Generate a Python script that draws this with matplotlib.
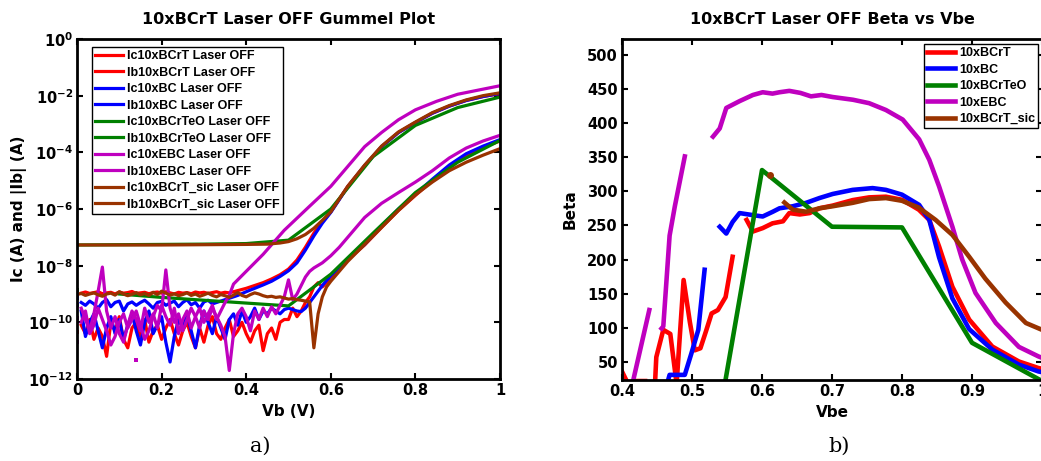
import numpy as np
import matplotlib
matplotlib.use('Agg')
import matplotlib.pyplot as plt

plt.rcParams['font.family'] = ['DejaVu Sans']
plt.rcParams['font.weight'] = 'bold'
plt.rcParams['mathtext.fontset'] = 'dejavusans'
plt.rcParams['mathtext.default'] = 'bf'

LEG_FONT = ['Liberation Sans', 'DejaVu Sans']

# ---------------- colours ----------------
RED, BLUE, GREEN, MAG, BROWN = '#FF0000', '#0000FF', '#008000', '#BF00BF', '#993300'

# ---------------- Gummel plot data (log10 of current in A) ----------------
# Ic 10xBCrT
ic_bcrt_noise = [-8.97, -8.93, -8.98, -8.95, -8.92, -8.99, -8.96, -8.94, -9.00, -8.93,
                 -8.97, -8.95, -8.91, -8.98, -8.96, -8.94, -8.99, -8.95, -8.93, -8.97,
                 -8.92, -8.96, -9.00, -8.94, -8.97, -8.95, -8.99, -8.93, -8.96, -8.94,
                 -8.98, -8.95, -8.92, -8.97, -8.94, -8.96]
ic_bcrt_tail_vb = [0.37, 0.38, 0.40, 0.42, 0.44, 0.46, 0.48, 0.50, 0.52, 0.54, 0.56, 0.58,
                   0.60, 0.64, 0.68, 0.72, 0.76, 0.80, 0.84, 0.88, 0.92, 0.96, 1.00]
ic_bcrt_tail = [-8.92, -8.88, -8.80, -8.70, -8.60, -8.47, -8.32, -8.12, -7.80, -7.35, -6.85, -6.45,
                -6.10, -5.20, -4.47, -3.80, -3.30, -2.95, -2.62, -2.37, -2.17, -2.03, -1.93]

# Ib 10xBCrT
ib_bcrt_noise = [-10.1, -10.4, -9.9, -10.6, -10.2, -10.5, -11.2, -10.0, -10.3, -9.8,
                 -10.6, -10.9, -10.2, -10.0, -10.5, -9.9, -10.7, -10.3, -10.1, -10.6,
                 -10.2, -9.9, -10.4, -10.8, -10.3, -10.0, -10.5, -10.9, -10.2, -10.7,
                 -10.1, -9.8, -10.4, -10.6, -10.2, -9.9, -10.5, -10.3, -10.0, -10.4,
                 -10.7, -10.3, -10.1, -11.0, -10.4, -10.2, -10.6, -10.0, -9.9, -9.9,
                 -9.5, -9.8, -9.6, -9.3, -9.1]
ib_bcrt_tail_vb = [0.56, 0.57, 0.58, 0.59, 0.60, 0.64, 0.68, 0.72, 0.76, 0.80, 0.84, 0.88, 0.92, 0.96, 1.00]
ib_bcrt_tail = [-8.75, -8.60, -8.75, -8.60, -8.40, -7.80, -7.27, -6.65, -6.05, -5.52, -5.00, -4.50,
                -4.10, -3.82, -3.60]

# Ic 10xBC
ic_bc_noise = [-9.30, -9.40, -9.25, -9.35, -9.50, -9.30, -9.20, -9.45, -9.30, -9.25,
               -9.60, -9.35, -9.28, -9.40, -9.30, -9.22, -9.35, -9.50, -9.30, -9.26,
               -9.40, -9.32, -9.25, -9.45, -9.30, -9.20, -9.38, -9.30, -9.50, -9.28,
               -9.22, -9.35, -9.30, -9.25, -9.20, -9.15]
ic_bc_tail_vb = ic_bcrt_tail_vb
ic_bc_tail = [-9.10, -9.05, -8.92, -8.80, -8.68, -8.55, -8.38, -8.18, -7.90, -7.45, -6.95, -6.50,
              -6.12, -5.22, -4.47, -3.80, -3.30, -2.95, -2.62, -2.37, -2.17, -2.03, -1.92]

# Ib 10xBC
ib_bc_noise = [-9.6, -10.5, -10.0, -9.7, -10.3, -10.9, -10.2, -9.8, -10.4, -9.9,
               -10.6, -10.1, -9.7, -10.3, -10.8, -10.0, -9.6, -10.4, -10.1, -9.8,
               -10.7, -11.4, -10.5, -9.9, -10.2, -9.7, -10.3, -10.9, -10.1, -9.6,
               -10.0, -10.4, -9.8, -10.2, -10.6, -9.9, -9.7, -10.1, -9.6, -10.0,
               -9.8, -9.5, -9.9, -9.6, -9.7, -9.5, -9.6, -9.7, -9.55, -9.5,
               -9.55, -9.6, -9.62, -9.5, -9.3]
ib_bc_tail_vb = [0.56, 0.57, 0.58, 0.60, 0.64, 0.68, 0.72, 0.76, 0.80, 0.84, 0.88, 0.92, 0.96, 1.00]
ib_bc_tail = [-9.10, -8.90, -8.70, -8.35, -7.75, -7.25, -6.60, -6.00, -5.48, -4.95, -4.45, -4.05,
              -3.78, -3.55]

# Ic / Ib 10xBCrTeO (coarser sampling)
teo_vb = [0.0, 0.1, 0.2, 0.3, 0.4, 0.5, 0.6, 0.7, 0.8, 0.9, 1.0]
ic_teo = [-7.27, -7.26, -7.25, -7.24, -7.22, -7.10, -6.00, -4.15, -3.05, -2.42, -2.05]
ib_teo_vb = [0.1, 0.2, 0.3, 0.4, 0.5, 0.6, 0.7, 0.8, 0.9, 1.0]
ib_teo = [-9.00, -9.12, -9.22, -9.32, -9.42, -8.30, -6.85, -5.42, -4.35, -3.58]

# Ic 10xEBC
ic_ebc_noise = [-9.5, -9.9, -10.3, -9.7, -8.9, -8.05, -9.6, -10.2, -9.8, -10.4,
                -10.7, -10.1, -9.6, -9.9, -10.3, -9.5, -10.0, -9.7, -10.2, -9.4,
                -9.8, -10.1, -9.5, -10.4, -9.9, -9.6, -10.2, -9.8, -9.5, -10.0,
                -9.7, -9.4, -9.9, -9.6, -9.3]
ic_ebc_tail_vb = [0.36, 0.37, 0.38, 0.40, 0.44, 0.49, 0.55, 0.60, 0.64, 0.68, 0.72, 0.76, 0.80,
                  0.85, 0.90, 0.95, 1.00]
ic_ebc_tail = [-9.05, -8.65, -8.50, -8.20, -7.60, -6.75, -5.90, -5.20, -4.50, -3.80, -3.30, -2.85,
               -2.50, -2.20, -1.95, -1.80, -1.65]

# Ib 10xEBC
ib_ebc_noise = [-10.0, -9.6, -10.4, -10.1, -9.5, -9.9, -10.3, -10.8, -10.5, -10.0,
                -9.7, -10.2, -9.9, -9.6, -10.1, -10.6, -10.3, -9.8, -9.4, -9.6,
                -8.15, -9.5, -10.0, -9.7, -10.3, -9.9, -9.5, -9.8, -10.2, -9.6,
                -9.9, -9.5, -9.8, -10.1, -10.5, -11.7, -10.4, -9.7, -9.5, -9.8,
                -10.3, -9.6, -9.9, -9.5, -9.8]
ib_ebc_tail_vb = [0.46, 0.47, 0.48, 0.49, 0.50, 0.51, 0.52, 0.53, 0.54, 0.55, 0.56, 0.58, 0.60,
                  0.62, 0.64, 0.68, 0.72, 0.76, 0.80, 0.84, 0.88, 0.92, 0.96, 1.00]
ib_ebc_tail = [-9.45, -9.70, -9.40, -9.10, -8.50, -9.20, -9.00, -8.70, -8.40, -8.20, -8.08, -7.90,
               -7.65, -7.35, -7.00, -6.30, -5.80, -5.42, -5.05, -4.65, -4.20, -3.85, -3.60, -3.40]

# Ic 10xBCrT_sic
ic_sic_vb = [0.0, 0.1, 0.2, 0.3, 0.4, 0.45, 0.48, 0.50, 0.52, 0.54, 0.56, 0.58, 0.60, 0.64, 0.68,
             0.72, 0.76, 0.80, 0.84, 0.88, 0.92, 0.96, 1.00]
ic_sic = [-7.27, -7.27, -7.27, -7.26, -7.25, -7.24, -7.20, -7.15, -7.05, -6.90, -6.68, -6.40,
          -6.10, -5.20, -4.45, -3.78, -3.28, -2.93, -2.60, -2.35, -2.15, -2.00, -1.90]

# Ib 10xBCrT_sic (starts at 0 V)
ib_sic_noise = [-9.02, -8.98, -9.05, -9.00, -8.96, -9.03, -9.08, -9.00, -8.97, -9.04,
                -8.92, -9.00, -9.06, -9.01, -8.95, -9.03, -8.98, -9.05, -8.94, -9.02,
                -8.90, -8.97, -9.04, -8.99, -9.06, -9.02, -8.96, -9.05, -9.00, -9.08,
                -9.03, -8.97, -9.05, -9.10, -9.02, -9.06, -9.12, -9.04, -8.95, -9.05,
                -9.10, -9.02, -8.96, -9.00, -9.06, -9.10, -9.08, -9.12, -9.10, -9.14,
                -9.18, -9.16, -9.20, -9.22, -9.25, -9.28]
ib_sic_tail_vb = [0.56, 0.57, 0.58, 0.59, 0.60, 0.62, 0.64, 0.68, 0.72, 0.76, 0.80, 0.84, 0.88,
                  0.92, 0.96, 1.00]
ib_sic_tail = [-10.9, -9.7, -9.1, -8.75, -8.55, -8.2, -7.85, -7.25, -6.65, -6.05, -5.5, -5.05,
               -4.65, -4.35, -4.1, -3.87]

# isolated single samples (first point at 0 V, one stray point)
dot_vb = [0.0, 0.0, 0.0, 0.0, 0.0, 0.0, 0.0, 0.14]
dot_log = [-8.86, -9.03, -9.14, -9.39, -9.85, -10.34, -10.69, -11.33]
dot_col = [GREEN, RED, BLUE, BLUE, MAG, RED, MAG, MAG]

gummel_labels = ['Ic10xBCrT Laser OFF', 'Ib10xBCrT Laser OFF', 'Ic10xBC Laser OFF',
                 'Ib10xBC Laser OFF', 'Ic10xBCrTeO Laser OFF', 'Ib10xBCrTeO Laser OFF',
                 'Ic10xEBC Laser OFF', 'Ib10xEBC Laser OFF', 'Ic10xBCrT_sic Laser OFF',
                 'Ib10xBCrT_sic Laser OFF']

# ---------------- Beta vs Vbe data ----------------
beta_labels = ['10xBCrT', '10xBC', '10xBCrTeO', '10xEBC', '10xBCrT_sic']
nan = np.nan
bcrt_vbe = [0.400, 0.410, nan, 0.420, 0.433, nan, 0.447, 0.449, 0.459, 0.469, 0.478, 0.488,
            0.497, 0.504, 0.512, 0.520, 0.528, 0.537, 0.548, 0.558, nan, 0.578, 0.587, 0.601,
            0.615, 0.630, 0.639, 0.654, 0.668, 0.682, 0.701, 0.7295, 0.753, 0.777, 0.800,
            0.824, 0.839, 0.853, 0.872, 0.896, 0.929, 0.967, 0.995, 1.000]
bcrt_beta = [36, 15, nan, 22, 22, nan, 15, 57, 97, 91, 18, 170,
             108, 67, 70, 95, 121, 126, 145, 204, nan, 258, 241, 246,
             253, 256, 268, 266, 268, 275, 279, 287, 291, 292, 287.5,
             273, 258, 219, 160, 112, 72.5, 50.6, 41, 40]

bc_vbe = [0.4636, 0.468, 0.478, 0.4897, 0.499, 0.509, 0.518, nan, 0.5396, 0.549, 0.558, 0.568,
          0.587, 0.601, 0.6155, 0.625, 0.644, 0.663, 0.682, 0.701, 0.7295, 0.758, 0.777,
          0.800, 0.8245, 0.839, 0.853, 0.872, 0.896, 0.929, 0.967, 0.995, 1.000]
bc_beta = [15, 31, 31, 31, 62, 97, 185, nan, 248, 238, 255, 268,
           265, 263, 270, 275, 278, 283, 290, 296, 302, 304.6, 302,
           295, 280, 258, 203, 143, 98, 68, 46, 36, 35]

teo_vbe = [0.5, 0.6, 0.7, 0.8, 0.9, 1.0]
teo_beta = [-259, 331, 248, 247, 78, 22]

ebc_vbe = [0.410, 0.439, nan, 0.4565, 0.459, 0.468, 0.4755, 0.4897, nan, 0.530, 0.5396, 0.549,
           0.568, 0.587, 0.601, 0.615, 0.625, 0.639, 0.655, 0.670, 0.685, 0.701, 0.730, 0.753,
           0.777, 0.801, 0.8245, 0.839, 0.853, 0.872, 0.886, 0.905, 0.934, 0.967, 0.995, 1.000]
ebc_beta = [-4, 126, nan, 99, 102, 235, 278, 351, nan, 380, 392, 422,
            432, 441, 445, 443, 445, 447, 444, 439, 441, 438, 434, 429,
            419, 405, 376, 346, 307, 248, 200, 151, 107, 72, 58, 56]

sic_vbe = [0.632, 0.644, 0.663, 0.682, 0.701, 0.7295, 0.753, 0.777, 0.800, 0.824, 0.848, 0.872,
           0.896, 0.919, 0.948, 0.977, 1.000]
sic_beta = [283.5, 273, 270, 275, 278, 283, 288.5, 290, 286, 276, 258, 236,
            204, 172, 137, 107, 97]
sic_dot_vbe = [0.611]
sic_dot_beta = [324]


def fine(n, start=0.01):
    """measurement grid of the swept base voltage, 10 mV steps"""
    return list(np.round(start + 0.01 * np.arange(n), 2))


fig = plt.figure(figsize=(10.41, 4.61), dpi=100)
W, H = 1041.0, 461.0
ax1 = fig.add_axes([77 / W, 1 - 379 / H, 423 / W, 340 / H])
ax2 = fig.add_axes([622 / W, 1 - 380 / H, 420 / W, 341 / H])

lw1 = 2.3
curves = [
    (fine(len(ic_bcrt_noise)) + ic_bcrt_tail_vb, ic_bcrt_noise + ic_bcrt_tail, RED),
    (fine(len(ib_bcrt_noise)) + ib_bcrt_tail_vb, ib_bcrt_noise + ib_bcrt_tail, RED),
    (fine(len(ic_bc_noise)) + ic_bc_tail_vb, ic_bc_noise + ic_bc_tail, BLUE),
    (fine(len(ib_bc_noise)) + ib_bc_tail_vb, ib_bc_noise + ib_bc_tail, BLUE),
    (teo_vb, ic_teo, GREEN),
    (ib_teo_vb, ib_teo, GREEN),
    (fine(len(ic_ebc_noise)) + ic_ebc_tail_vb, ic_ebc_noise + ic_ebc_tail, MAG),
    (fine(len(ib_ebc_noise)) + ib_ebc_tail_vb, ib_ebc_noise + ib_ebc_tail, MAG),
    (ic_sic_vb, ic_sic, BROWN),
    (fine(len(ib_sic_noise), 0.0) + ib_sic_tail_vb, ib_sic_noise + ib_sic_tail, BROWN),
]
for (x, ylog, c), lab in zip(curves, gummel_labels):
    ax1.plot(x, 10.0 ** np.array(ylog), color=c, lw=lw1, label=lab)
for x, yl, c in zip(dot_vb, dot_log, dot_col):
    ax1.plot([x], [10.0 ** yl], 's', color=c, ms=2.6, mew=0)

ax1.set_yscale('log')
ax1.set_xlim(0, 1)
ax1.set_ylim(1e-12, 1)
ax1.set_xticks([0, 0.2, 0.4, 0.6, 0.8, 1])
ax1.set_xticklabels(['0', '0.2', '0.4', '0.6', '0.8', '1'])
yt = [1e-12, 1e-10, 1e-8, 1e-6, 1e-4, 1e-2, 1]
ax1.set_yticks(yt)
ax1.set_yticklabels([r'$10^{-12}$', r'$10^{-10}$', r'$10^{-8}$', r'$10^{-6}$', r'$10^{-4}$',
                     r'$10^{-2}$', r'$10^{0}$'])
ax1.yaxis.set_minor_locator(matplotlib.ticker.NullLocator())
ax1.set_title('10xBCrT Laser OFF Gummel Plot', fontsize=11.5, fontweight='bold', pad=11)
ax1.set_xlabel('Vb (V)', fontsize=11, fontweight='bold', labelpad=4)
ax1.set_ylabel('Ic (A) and |Ib| (A)', fontsize=11, fontweight='bold', labelpad=1)
leg1 = ax1.legend(loc='upper left', bbox_to_anchor=(15 / 423, 1 - 8 / 340), borderaxespad=0,
                  prop={'family': LEG_FONT, 'weight': 'bold', 'size': 9},
                  frameon=True, fancybox=False, edgecolor='black',
                  framealpha=1, labelspacing=0.36, handlelength=2.25, handletextpad=0.3,
                  borderpad=0.25)
leg1.get_frame().set_linewidth(1.0)

# ---- right panel
lw2 = 3.3
ax2.plot(bcrt_vbe, bcrt_beta, color=RED, lw=lw2, label=beta_labels[0])
ax2.plot(bc_vbe, bc_beta, color=BLUE, lw=lw2, label=beta_labels[1])
ax2.plot(teo_vbe, teo_beta, color=GREEN, lw=lw2, label=beta_labels[2])
ax2.plot(ebc_vbe, ebc_beta, color=MAG, lw=lw2, label=beta_labels[3])
ax2.plot(sic_vbe, sic_beta, color=BROWN, lw=lw2, label=beta_labels[4])
ax2.plot(sic_dot_vbe, sic_dot_beta, 'o', color=BROWN, ms=5, mew=0)
ax2.set_xlim(0.4, 1.0)
ax2.set_ylim(23.5, 523)
ax2.set_xticks([0.4, 0.5, 0.6, 0.7, 0.8, 0.9, 1.0])
ax2.set_xticklabels(['0.4', '0.5', '0.6', '0.7', '0.8', '0.9', '1'])
ax2.set_yticks([50, 100, 150, 200, 250, 300, 350, 400, 450, 500])
ax2.set_title('10xBCrT Laser OFF Beta vs Vbe', fontsize=11.5, fontweight='bold', pad=11)
ax2.set_xlabel('Vbe', fontsize=11, fontweight='bold', labelpad=4)
ax2.set_ylabel('Beta', fontsize=11, fontweight='bold', labelpad=7)
leg2 = ax2.legend(loc='upper right', bbox_to_anchor=(416 / 420, 1 - 5 / 341), borderaxespad=0,
                  prop={'family': LEG_FONT, 'weight': 'bold', 'size': 9},
                  frameon=True, fancybox=False, edgecolor='black',
                  framealpha=1, labelspacing=0.36, handlelength=2.25, handletextpad=0.3,
                  borderpad=0.25)
leg2.get_frame().set_linewidth(1.0)

for ax in (ax1, ax2):
    for s in ax.spines.values():
        s.set_linewidth(2.0)
    ax.tick_params(which='both', direction='in', top=True, right=True, length=4, width=1.5,
                   labelsize=10.5, pad=3)
    for lab in ax.get_xticklabels() + ax.get_yticklabels():
        lab.set_fontweight('bold')

fig.text(260 / W, 1 - 446 / H, 'a)', family='DejaVu Serif', fontsize=15, ha='center',
         va='center', fontweight='normal')
fig.text(839 / W, 1 - 446 / H, 'b)', family='DejaVu Serif', fontsize=15, ha='center',
         va='center', fontweight='normal')

fig.savefig('out.png', dpi=100)
